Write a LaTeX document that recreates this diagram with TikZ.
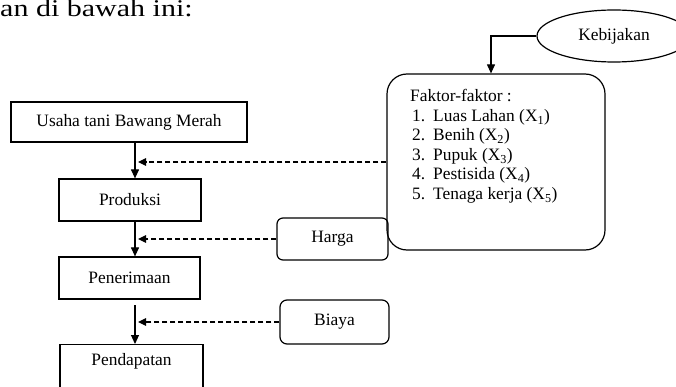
\documentclass[tikz,border=0pt]{standalone}
\usepackage{fontspec}
\usepackage{graphicx}
\setmainfont{Liberation Serif}
\usetikzlibrary{arrows.meta,shapes.geometric}
\begin{document}
\begin{tikzpicture}[x=1pt,y=-1pt,
  font=\fontsize{17.4}{19.4}\selectfont,
  box/.style={draw, line width=1.2pt, inner sep=0pt},
  rbox/.style={draw, line width=1.2pt, rounded corners=6pt, inner sep=0pt},
  txt/.style={inner sep=0pt, anchor=base west},
  arr/.style={line width=1.1pt, -{Triangle[length=9pt,width=8pt]}},
  darr/.style={line width=1.1pt, dash pattern=on 5pt off 3pt, -{Triangle[length=8pt,width=7.5pt]}}]
\useasboundingbox (0,0) rectangle (676,387);
\clip (0,0) rectangle (676,387);

% intro text (cropped sentence)
\node[txt, font=\fontsize{24}{28}\selectfont] (intro) at (0,16.5) {\scalebox{1.25}[1]{an di bawah ini:}};

% main chain
\node[box, minimum width=236pt, minimum height=40pt] (usaha) at (129,122) {Usaha tani Bawang Merah};
\node[box, minimum width=142pt, minimum height=42pt] (prod) at (130,200) {Produksi};
\node[box, minimum width=141pt, minimum height=42pt] (pener) at (129.5,278) {Penerimaan};
\node[box, minimum width=143pt, minimum height=60pt, anchor=north] (pend) at (131.5,344) {};
\node (pendt) at (131.5,361) {Pendapatan};

% side boxes
\node[rbox, minimum width=111pt, minimum height=42pt] (harga) at (332.5,239) {Harga};
\node[rbox, rounded corners=7pt, minimum width=109pt, minimum height=44pt] (biaya) at (334.5,322) {Biaya};
\node[draw, line width=1.2pt, rounded corners=20pt, inner sep=0pt, minimum width=218pt, minimum height=176pt] (faktor) at (496,162) {};

% factor list
\node[txt] (f0) at (410,102) {Faktor-faktor :};
\node[txt] (n1) at (412,121.5) {1.};
\node[txt] (f1) at (433,121.5) {Luas Lahan (X\textsubscript{1})};
\node[txt] (n2) at (412,141) {2.};
\node[txt] (f2) at (433,141) {Benih (X\textsubscript{2})};
\node[txt] (n3) at (412,160.5) {3.};
\node[txt] (f3) at (433,160.5) {Pupuk (X\textsubscript{3})};
\node[txt] (n4) at (412,180) {4.};
\node[txt] (f4) at (433,180) {Pestisida (X\textsubscript{4})};
\node[txt] (n5) at (412,199.5) {5.};
\node[txt] (f5) at (433,199.5) {Tenaga kerja (X\textsubscript{5})};

% policy ellipse
\node[draw, ellipse, line width=1.2pt, inner sep=0pt, minimum width=154pt, minimum height=52pt] (keb) at (614,36) {Kebijakan};

% coordinates
\coordinate (kc) at (491,36);
\coordinate (ax) at (135,0);
\coordinate (s3) at (135,305);
\coordinate (d1) at (138,162);
\coordinate (d2) at (138,239);
\coordinate (d3) at (138,322);

% solid connectors
\draw[arr] (keb.west) -- (kc) -- (faktor.north -| kc);
\draw[arr] (usaha.south -| ax) -- (prod.north -| ax);
\draw[arr] (prod.south -| ax) -- (pener.north -| ax);
\draw[arr] (s3) -- (pend.north -| ax);

% dashed connectors
\draw[darr] (faktor.west |- d1) -- (d1);
\draw[darr] (harga.west) -- (d2);
\draw[darr] (biaya.west) -- (d3);
\end{tikzpicture}
\end{document}
